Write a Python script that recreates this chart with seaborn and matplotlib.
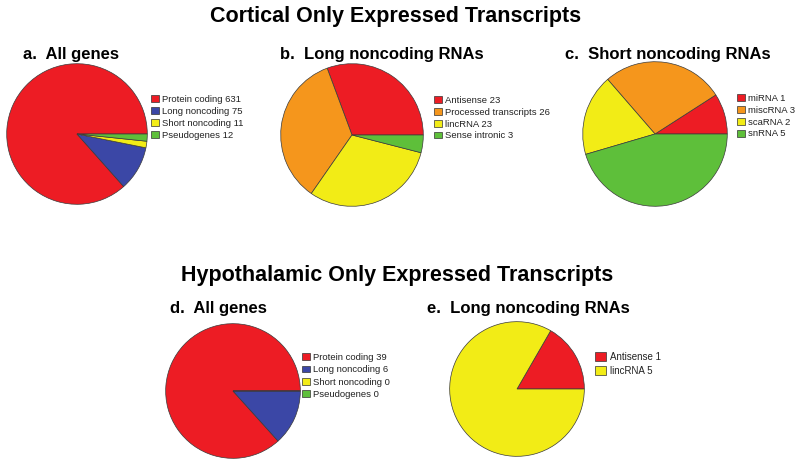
import matplotlib
matplotlib.use("Agg")
import matplotlib.pyplot as plt
import seaborn as sns

# panel data
a_labels = ["Protein coding", "Long noncoding", "Short noncoding", "Pseudogenes"]
a_values = [631, 75, 11, 12]

b_labels = ["Antisense", "Processed transcripts", "lincRNA", "Sense intronic"]
b_values = [23, 26, 23, 3]

c_labels = ["miRNA", "miscRNA", "scaRNA", "snRNA"]
c_values = [1, 3, 2, 5]

d_labels = ["Protein coding", "Long noncoding", "Short noncoding", "Pseudogenes"]
d_values = [39, 6, 0, 0]

e_labels = ["Antisense", "lincRNA"]
e_values = [1, 5]

RED, BLUE, YELLOW, GREEN, ORANGE = "#ED1C24", "#3B47A6", "#F2EC16", "#5EBF3A", "#F5961C"

sns.set_theme(style="white")
plt.rcParams["font.family"] = ["Liberation Sans", "DejaVu Sans"]
plt.rcParams["text.color"] = "black"

W, H = 800, 468
fig = plt.figure(figsize=(W / 100, H / 100), dpi=100)


def fx(x):
    return x / W


def fy(y):
    return 1 - y / H


def pie_panel(cx, cy, r, values, labels, colors, leg_x, leg_y, fs=6.8, hl=0.8, hh=0.7, ls=0.3):
    ax = fig.add_axes([fx(cx - r), fy(cy + r), 2 * r / W, 2 * r / H])
    wedges, _ = ax.pie(values, colors=colors, startangle=0, counterclock=True,
                       wedgeprops=dict(edgecolor="#3a3a3a", linewidth=0.5))
    ax.set_xlim(-1.01, 1.01)
    ax.set_ylim(-1.01, 1.01)
    ax.set_aspect("equal")
    ax.axis("off")
    handles = [plt.Rectangle((0, 0), 1, 1, facecolor=c, edgecolor="#333333", linewidth=0.5)
               for c in colors]
    fig.legend(handles, [f"{l} {v}" for l, v in zip(labels, values)],
               loc="upper left", bbox_to_anchor=(fx(leg_x), fy(leg_y)),
               bbox_transform=fig.transFigure, frameon=False, fontsize=fs,
               handlelength=hl, handleheight=hh, handletextpad=0.35,
               labelspacing=ls, borderpad=0, borderaxespad=0, labelcolor="#222222")
    return ax


# titles
fig.text(fx(396), fy(22), "Cortical Only Expressed Transcripts", ha="center",
         va="baseline", fontsize=15.5, weight="bold")
fig.text(fx(397), fy(281), "Hypothalamic Only Expressed Transcripts", ha="center",
         va="baseline", fontsize=15.5, weight="bold")

fig.text(fx(23), fy(59), "a.  All genes", ha="left", va="baseline", fontsize=12, weight="bold")
fig.text(fx(280), fy(59), "b.  Long noncoding RNAs", ha="left", va="baseline", fontsize=12, weight="bold")
fig.text(fx(565), fy(59), "c.  Short noncoding RNAs", ha="left", va="baseline", fontsize=12, weight="bold")
fig.text(fx(170), fy(313), "d.  All genes", ha="left", va="baseline", fontsize=12, weight="bold")
fig.text(fx(427), fy(313), "e.  Long noncoding RNAs", ha="left", va="baseline", fontsize=12, weight="bold")

pie_panel(77, 134, 71, a_values, a_labels, [RED, BLUE, YELLOW, GREEN], 151, 95)
pie_panel(352, 135, 72, b_values, b_labels, [RED, ORANGE, YELLOW, GREEN], 434, 96)
pie_panel(655, 134, 73, c_values, c_labels, [RED, ORANGE, YELLOW, GREEN], 737, 94)
pie_panel(233, 391, 68, d_values, d_labels, [RED, BLUE, YELLOW, GREEN], 302, 353, ls=0.35)
pie_panel(517, 389, 68, e_values, e_labels, [RED, YELLOW], 595, 352, fs=7, hl=1.15, hh=0.95, ls=0.4)

fig.savefig("out.png", dpi=100, facecolor="white")
